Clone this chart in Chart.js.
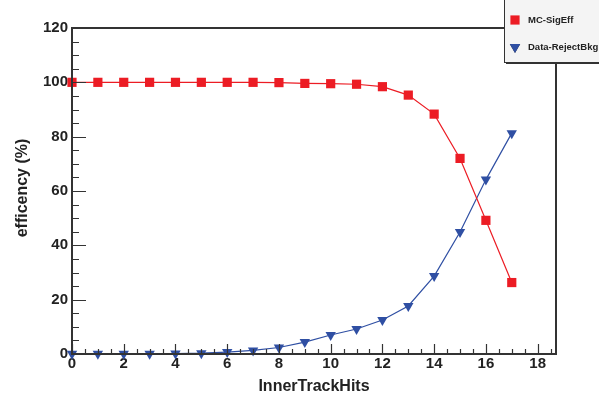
<!DOCTYPE html>
<html>
<head>
<meta charset="utf-8">
<script src="https://cdn.jsdelivr.net/npm/chart.js@4/dist/chart.umd.min.js"></script>
<style>
  html, body { margin: 0; padding: 0; background: #ffffff; }
  #wrap { width: 599px; height: 397px; position: relative; }
</style>
</head>
<body>
<div id="wrap"><canvas id="c" width="599" height="397"></canvas></div>
<script>
// Number of inner-track hits required (cut value)
const hits = [0, 1, 2, 3, 4, 5, 6, 7, 8, 9, 10, 11, 12, 13, 14, 15, 16, 17];
// Signal efficiency on MC (%)
const sigEff = [100, 100, 100, 100, 100, 100, 100, 100, 99.9, 99.6, 99.5, 99.3, 98.4, 95.3, 88.3, 72.0, 49.2, 26.3];
// Background rejection on data (%)
const rejectBkg = [0.05, 0.1, 0.1, 0.1, 0.15, 0.3, 0.7, 1.3, 2.4, 4.4, 7.0, 9.2, 12.5, 17.7, 28.7, 44.9, 64.2, 81.3];

const xTicks = [0, 2, 4, 6, 8, 10, 12, 14, 16, 18];
const yTicks = [0, 20, 40, 60, 80, 100, 120];
const seriesNames = ['MC-SigEff', 'Data-RejectBkg'];
const xTitle = 'InnerTrackHits';
const yTitle = 'efficency (%)';

const RED = '#ec1c24';
const BLUE = '#2f4fa3';
const FRAME = '#333333';
const FONT = '"Liberation Sans", Arial, Helvetica, sans-serif';

const toPoints = (ys) => hits.map((x, i) => ({ x: x, y: ys[i] }));

// Frame, inward ticks (major + minor), axis titles and legend box
const frameAndDecor = {
  id: 'frameAndDecor',
  afterDatasetsDraw(chart) {
    const ctx = chart.ctx;
    const a = chart.chartArea;
    const xs = chart.scales.x, ys = chart.scales.y;
    ctx.save();
    // ticks along x (major every 2, minor every 0.5)
    ctx.strokeStyle = FRAME;
    ctx.lineWidth = 1.2;
    ctx.beginPath();
    for (let v = 0; v <= xs.max + 1e-9; v += 0.5) {
      const px = Math.round(xs.getPixelForValue(v)) + 0.5;
      const major = Math.abs(v / 2 - Math.round(v / 2)) < 1e-9;
      const len = major ? 10 : 5;
      ctx.moveTo(px, a.bottom);
      ctx.lineTo(px, a.bottom - len);
    }
    // ticks along y (major every 20, minor every 5)
    for (let v = 0; v <= ys.max + 1e-9; v += 5) {
      const py = Math.round(ys.getPixelForValue(v)) + 0.5;
      const major = v % 20 === 0;
      const len = major ? 14 : 7;
      ctx.moveTo(a.left, py);
      ctx.lineTo(a.left + len, py);
    }
    ctx.stroke();
    // frame
    ctx.lineWidth = 2;
    ctx.strokeStyle = FRAME;
    ctx.strokeRect(a.left, a.top, a.right - a.left, a.bottom - a.top);

    // axis titles
    ctx.fillStyle = '#222222';
    ctx.font = 'bold 16px ' + FONT;
    ctx.textAlign = 'center';
    ctx.textBaseline = 'middle';
    ctx.fillText(xTitle, 314, 387);
    ctx.save();
    ctx.translate(23, 188);
    ctx.rotate(-Math.PI / 2);
    ctx.fillText(yTitle, 0, 0);
    ctx.restore();

    // legend box with shadow
    const lx = 504, ly = 0, lw = 95, lh = 62;
    ctx.fillStyle = '#333333';
    ctx.fillRect(lx + 2, ly + 2, lw, lh);
    ctx.fillStyle = '#f4f4f4';
    ctx.fillRect(lx, ly, lw, lh);
    ctx.lineWidth = 1;
    ctx.strokeStyle = FRAME;
    ctx.strokeRect(lx + 0.5, ly - 1, lw, lh + 1.5);

    const ds = chart.data.datasets;
    const rows = [20, 47];
    ds.forEach((d, i) => {
      Chart.helpers.drawPoint(ctx, {
        pointStyle: d.pointStyle,
        radius: d.pointRadius,
        rotation: d.pointRotation || 0,
        borderWidth: 0
      }, 515, rows[i]);
      ctx.fillStyle = d.pointBackgroundColor;
      ctx.fill();
      ctx.fillStyle = '#222222';
      ctx.font = 'bold 9.5px ' + FONT;
      ctx.textAlign = 'left';
      ctx.textBaseline = 'middle';
      ctx.fillText(d.label, 528, rows[i]);
    });
    ctx.restore();
  }
};

new Chart(document.getElementById('c'), {
  type: 'line',
  data: {
    datasets: [
      {
        label: seriesNames[0],
        data: toPoints(sigEff),
        borderColor: RED,
        borderWidth: 1.2,
        backgroundColor: RED,
        pointBackgroundColor: RED,
        pointBorderColor: RED,
        pointBorderWidth: 0,
        pointStyle: 'rect',
        pointRadius: 6.5,
        pointHoverRadius: 6.5,
        tension: 0,
        clip: false
      },
      {
        label: seriesNames[1],
        data: toPoints(rejectBkg),
        borderColor: BLUE,
        borderWidth: 1.2,
        backgroundColor: BLUE,
        pointBackgroundColor: BLUE,
        pointBorderColor: BLUE,
        pointBorderWidth: 0,
        pointStyle: 'triangle',
        pointRotation: 180,
        pointRadius: 6,
        pointHoverRadius: 6,
        tension: 0,
        clip: false
      }
    ]
  },
  options: {
    responsive: false,
    animation: false,
    events: [],
    layout: { padding: { top: 28, right: 43, left: 0, bottom: 0 } },
    plugins: {
      legend: { display: false },
      tooltip: { enabled: false },
      title: { display: false }
    },
    scales: {
      x: {
        type: 'linear',
        min: 0,
        max: 18.71,
        grid: { display: false, drawTicks: false },
        border: { display: false },
        afterBuildTicks(scale) { scale.ticks = xTicks.map(v => ({ value: v })); },
        afterFit(scale) { scale.height = 43; },
        ticks: {
          padding: 1,
          maxRotation: 0,
          autoSkip: false,
          color: '#222222',
          font: { family: FONT, size: 15, weight: 'bold' }
        }
      },
      y: {
        type: 'linear',
        min: 0,
        max: 120,
        grid: { display: false, drawTicks: false },
        border: { display: false },
        afterBuildTicks(scale) { scale.ticks = yTicks.map(v => ({ value: v })); },
        afterFit(scale) { scale.width = 72; },
        ticks: {
          padding: 4,
          autoSkip: false,
          color: '#222222',
          font: { family: FONT, size: 15, weight: 'bold' }
        }
      }
    }
  },
  plugins: [frameAndDecor]
});
</script>
</body>
</html>
